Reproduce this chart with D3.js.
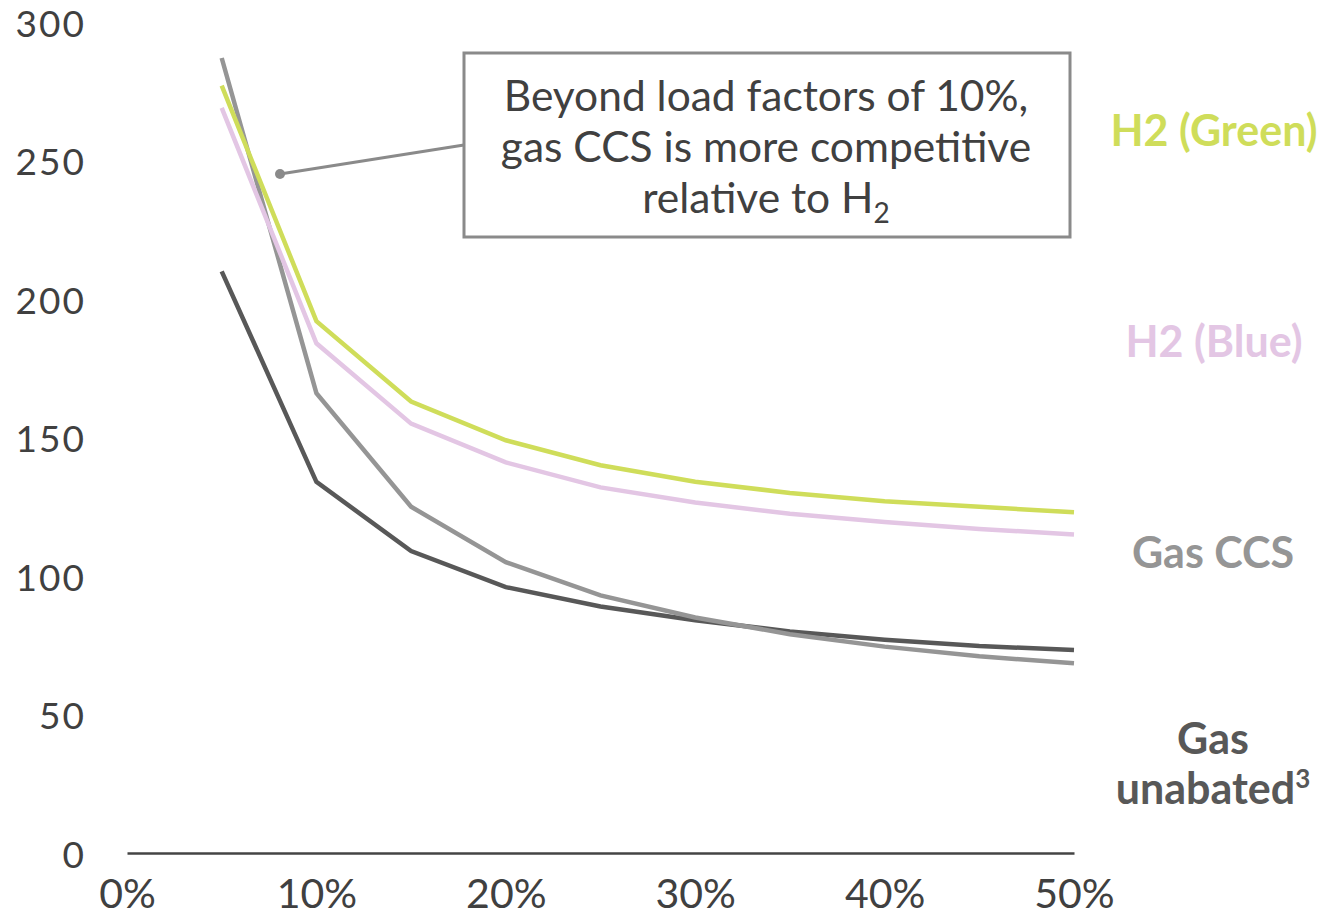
<!DOCTYPE html>
<html><head><meta charset="utf-8">
<script src="https://cdn.jsdelivr.net/npm/d3@7"></script>
<style>body{margin:0;background:#fff}svg{display:block;font-family:Lato,"Open Sans",sans-serif}</style>
</head><body><svg id="c" width="1322" height="917"></svg>
<script>
const loadFactors = [5,10,15,20,25,30,35,40,45,50];
const h2Green = [277,192,163,149,140,134,130,127,125,123];
const h2Blue = [269,184,155,141,132,126.5,122.5,119.5,117,115];
const gasCCS = [287,166,125,105,93,85,79,74.5,71,68.5];
const gasUnabated = [210,134,109,96,89,84,80,77,74.7,73.3];
const xTicks = [0,10,20,30,40,50];
const yTicks = [0,50,100,150,200,250,300];

const svg = d3.select("#c");
const x = d3.scaleLinear().domain([0,50]).range([127,1074]);
const y = d3.scaleLinear().domain([0,300]).range([853,22]);

const series = [
  {name:"H2 (Green)", vals:h2Green, color:"#cfdd5a"},
  {name:"H2 (Blue)", vals:h2Blue, color:"#e3c6e4"},
  {name:"Gas CCS", vals:gasCCS, color:"#959595"},
  {name:"Gas unabated", vals:gasUnabated, color:"#585858"}
];

// y tick labels
svg.append("g").selectAll("text").data(yTicks).join("text")
  .attr("x",86).attr("y",d=>y(d)+14.5).attr("text-anchor","end")
  .attr("font-size",37).attr("fill","#404040").attr("letter-spacing","2")
  .text(d=>d);

// x axis
const xAxis = d3.axisBottom(x).tickValues(xTicks).tickSize(0).tickPadding(25.5).tickFormat(d=>d+"%");
const gx = svg.append("g").attr("transform",`translate(0,${y(0)})`).call(xAxis);
gx.select(".domain").attr("stroke","#444").attr("stroke-width",2.5);
gx.selectAll("text").attr("font-size",41).attr("fill","#404040").attr("font-family","Lato,sans-serif").attr("dy","0.71em");

const line = d3.line().x((d,i)=>x(loadFactors[i])).y(d=>y(d));
svg.append("g").selectAll("path").data(series.slice().reverse()).join("path")
  .attr("d",d=>line(d.vals)).attr("fill","none")
  .attr("stroke",d=>d.color).attr("stroke-width",4.5).attr("stroke-linejoin","miter");

// annotation
svg.append("line").attr("x1",280).attr("y1",174).attr("x2",464).attr("y2",145)
  .attr("stroke","#8a8a8a").attr("stroke-width",3);
svg.append("circle").attr("cx",280).attr("cy",174).attr("r",5).attr("fill","#8a8a8a");
svg.append("rect").attr("x",464).attr("y",53).attr("width",606).attr("height",184)
  .attr("fill","#fff").attr("stroke","#8a8a8a").attr("stroke-width",3);
const at = svg.append("g").attr("font-size",42.5).attr("fill","#404040").attr("text-anchor","middle");
at.append("text").attr("x",766).attr("y",111).text("Beyond load factors of 10%,");
at.append("text").attr("x",766).attr("y",162).text("gas CCS is more competitive");
const t3 = at.append("text").attr("x",766).attr("y",213);
t3.append("tspan").text("relative to H");
t3.append("tspan").attr("font-size",28).attr("dy",10).text("2");

// series labels
const lab = svg.append("g").attr("font-weight",700).attr("font-size",43).attr("text-anchor","middle");
lab.append("text").attr("x",1214).attr("y",146).attr("fill","#cfdd5a").text("H2 (Green)");
lab.append("text").attr("x",1214).attr("y",357).attr("fill","#e3c6e4").text("H2 (Blue)");
lab.append("text").attr("x",1213).attr("y",568).attr("fill","#959595").text("Gas CCS");
lab.append("text").attr("x",1213).attr("y",754).attr("fill","#585858").text("Gas");
const u = lab.append("text").attr("x",1213).attr("y",804).attr("fill","#585858");
u.append("tspan").text("unabated");
u.append("tspan").attr("font-size",26).attr("dy",-16).text("3");
</script></body></html>
